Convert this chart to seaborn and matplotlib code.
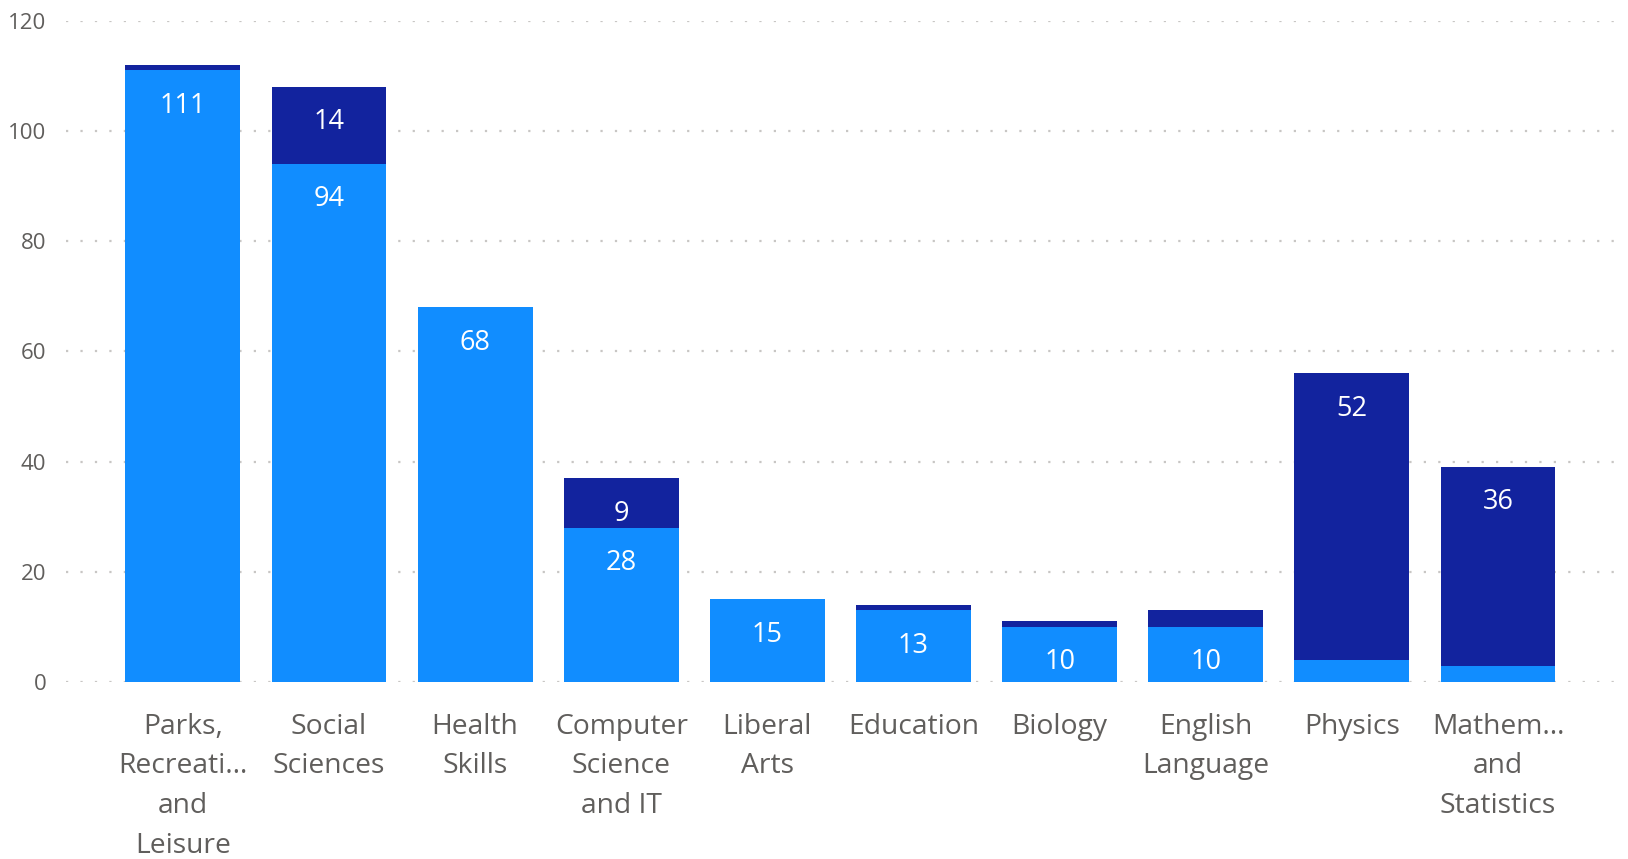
import matplotlib
matplotlib.use("Agg")
import matplotlib.pyplot as plt
import pandas as pd
import seaborn as sns

categories = [
	"Parks,\nRecreati…\nand\nLeisure",
	"Social\nSciences",
	"Health\nSkills",
	"Computer\nScience\nand IT",
	"Liberal\nArts",
	"Education",
	"Biology",
	"English\nLanguage",
	"Physics",
	"Mathem…\nand\nStatistics",
]
light_values = [111, 94, 68, 28, 15, 13, 10, 10, 4, 3]
dark_values = [1, 14, 0, 9, 0, 1, 1, 3, 52, 36]
y_ticks = [0, 20, 40, 60, 80, 100, 120]

LIGHT = "#118DFF"
DARK = "#12239E"
GREY = "#605E5C"

df = pd.DataFrame({"category": categories, "light": light_values, "dark": dark_values})
df["total"] = df["light"] + df["dark"]

sns.set_theme(style="white")
plt.rcParams["font.family"] = ["Open Sans", "DejaVu Sans"]

fig = plt.figure(figsize=(16.28, 8.59), dpi=100)
ax = fig.add_axes([0.0405, 0.206, 0.9515, 0.770])

bar_width = 0.786
sns.barplot(data=df, x="category", y="total", color=DARK, saturation=1, width=bar_width,
	linewidth=0, ax=ax, zorder=2)
sns.barplot(data=df, x="category", y="light", color=LIGHT, saturation=1, width=bar_width,
	linewidth=0, ax=ax, zorder=3)

# data labels just inside the top of each segment
for i, row in df.iterrows():
	if row["light"] >= 5:
		ax.annotate(str(row["light"]), xy=(i, row["light"]), xytext=(0, -25.5), textcoords="offset points",
			ha="center", va="center", color="white", fontsize=19.5, zorder=5)
	if row["dark"] >= 5:
		ax.annotate(str(row["dark"]), xy=(i, row["total"]), xytext=(0, -25.5), textcoords="offset points",
			ha="center", va="center", color="white", fontsize=19.5, zorder=5)

ax.set_xlim(-0.8, len(categories) - 0.2)
ax.set_ylim(0, 120)
ax.set_yticks(y_ticks)
ax.set_yticklabels([str(t) for t in y_ticks])
ax.yaxis.grid(True, color="#C8C6C4", linestyle=(0, (1, 5.5)), linewidth=1.6, zorder=0)
ax.set_axisbelow(True)
ax.tick_params(axis="y", length=0, pad=14, labelsize=16, labelcolor=GREY)
ax.tick_params(axis="x", length=0, pad=22, labelsize=20.3, labelcolor=GREY)
for lbl in ax.get_xticklabels():
	lbl.set_linespacing(1.56)
	lbl.set_verticalalignment("top")
ax.set_xlabel("")
ax.set_ylabel("")
sns.despine(left=True, bottom=True)

fig.savefig("out.png", dpi=100)
